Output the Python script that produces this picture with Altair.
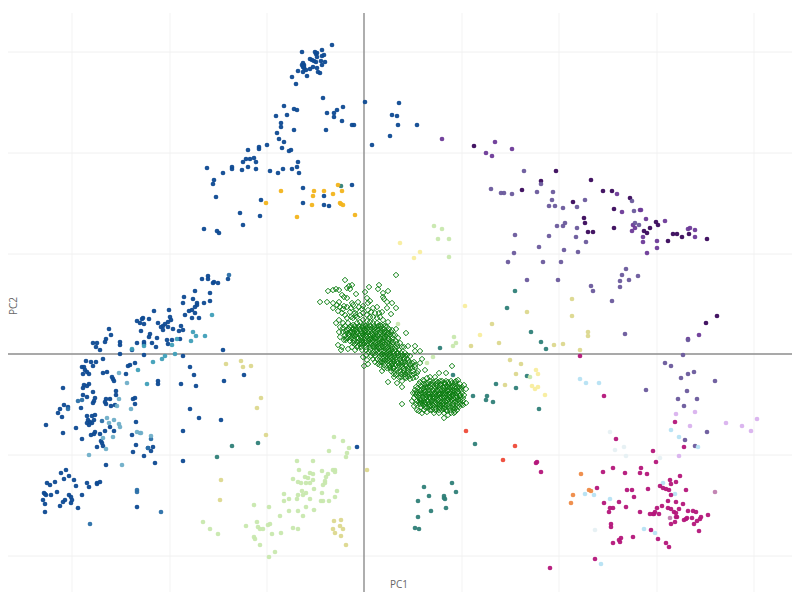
import altair as alt
import pandas as pd

grid_x = [-292, -194, -97, 98, 195, 293, 390]
grid_y = [302, 201, 100, -101, -202]

navy = [(-162,75),(-156,78),(-156,75),(-151,71),(-150,72),(-146,71),(-136,75),(-169,63),(-154,61),(-180,57),(-171,55),(-154,53),(-160,51),(-181,51),(-167,51),(-169,47),(-167,49),(-175,43),(-172,44),(-169,41),(-179,39),(-172,36),(-165,36),(-195,44),(-210,43),(-221,36),(-222,35),(-227,33),(-215,35),(-224,31),(-220,30),(-206,31),(-194,37),(-193,34),(-196,32),(-199,30),(-201,28),(-203,27),(-201,24),(-196,27),(-191,25),(-183,28),(-185,23),(-181,24),(-223,23),(-214,20),(-215,17),(-207,16),(-220,12),(-220,10),(-212,11),(-227,11),(-197,14),(-192,14),(-196,10),(-208,7),(-184,15),(-255,25),(-253,19),(-258,15),(-259,12),(-271,11),(-267,11),(-268,7),(-264,4),(-244,9),(-244,12),(-232,4),(-244,0),(-220,-1),(-181,-2),(-261,-5),(-278,-7),(-273,-8),(-268,-8),(-271,-12),(-282,-13),(-280,-13),(-279,-16),(-277,-18),(-281,-20),(-275,-20),(-261,-19),(-257,-18),(-252,-23),(-251,-25),(-250,-27),(-238,-20),(-236,-12),(-234,-11),(-229,-9),(-206,-27),(-206,-30),(-183,-30),(-174,-13),(-170,-21),(-168,-32),(-140,-27),(-141,4),(-120,-21),(-301,-34),(-280,-31),(-277,-32),(-275,-30),(-281,-34),(-271,-38),(-248,-37),(-248,-41),(-281,-41),(-277,-43),(-269,-44),(-270,-47),(-271,-49),(-258,-45),(-254,-45),(-259,-48),(-258,-50),(-253,-52),(-249,-51),(-231,-45),(-229,-44),(-229,-50),(-300,-51),(-296,-53),(-304,-55),(-306,-59),(-302,-63),(-283,-54),(-277,-62),(-272,-62),(-269,-61),(-276,-66),(-274,-68),(-270,-66),(-277,-69),(-272,-69),(-275,-71),(-318,-71),(-301,-79),(-288,-74),(-282,-85),(-254,-73),(-259,-77),(-250,-77),(-269,-78),(-270,-80),(-273,-81),(-264,-80),(-263,-87),(-262,-89),(-261,-92),(-267,-93),(-228,-68),(-232,-81),(-228,-91),(-231,-98),(-220,-102),(-216,-94),(-211,-93),(-213,-97),(-181,-77),(-174,-55),(-165,-64),(-143,-66),(-258,-111),(-209,-109),(-181,-107),(-298,-116),(-303,-119),(-295,-122),(-300,-125),(-290,-126),(-317,-129),(-309,-128),(-314,-131),(-288,-132),(-277,-129),(-275,-133),(-267,-129),(-264,-128),(-267,-130),(-320,-139),(-319,-140),(-318,-141),(-307,-138),(-313,-141),(-282,-141),(-295,-141),(-293,-143),(-299,-146),(-301,-148),(-292,-146),(-293,-149),(-321,-146),(-319,-150),(-304,-152),(-286,-154),(-319,-158),(-227,-153),
(-32,309),(-42,304),(-62,302),(-49,302),(-47,301),(-48,300),(-40,299),(-42,298),(-47,297),(-54,295),(-52,294),(-50,293),(-43,293),(-39,292),(-48,292),(-61,291),(-62,289),(-60,289),(-42,289),(-51,287),(-47,286),(-60,286),(-58,284),(-54,285),(-66,283),(-61,282),(-46,282),(-44,281),(-57,278),(-72,277),(-68,270),(-61,287),(-60,287),
(-41,256),(1,252),(35,251),(-80,248),(-70,245),(-67,244),(-27,244),(-21,247),(-77,239),(-88,238),(-37,241),(-30,241),(-30,237),(28,239),(33,238),(-83,231),(-83,227),(-22,233),(-12,229),(-10,229),(34,229),(53,229),(-70,224),(-38,224),(-87,221),(-85,215),(-80,212),(26,218),(8,209),(-97,209),(-105,207),(-105,205),(-116,204),(-82,206),(-75,203),(-73,204),(-110,196),(-118,195),(-114,195),(-121,192),(-108,192),(-66,192),(-116,187),(-132,187),(-132,185),(-108,185),(-122,184),(-157,186),(-141,181),(-94,183),(-86,181),(-81,185),(-72,185),(-67,187),(-65,181),(-150,174),(-151,170),(-148,157),(-103,154),(-61,166),(-12,169),(-40,158),(-61,151),(-40,149),(-35,148),(-124,141),(-104,138),(-121,129),(-160,125),(-147,123),(-145,121),(-7,-93)]
midblue = [(-135,79),(-286,-47),(-282,-46),(-296,-55),(-262,-67),(-274,-170),(-203,-158),(-227,-136),(-227,-138),(-216,-94),(-213,-85)]
teal = [(-232,5),(-220,8),(-192,9),(-187,15),(-171,22),(-168,18),(-159,18),(-173,13),(-152,39),(-211,-8),(-202,-5),(-199,-2),(-189,0),(-226,-16),(-217,-30)]
skyblue = [(-237,-29),(-245,-19),(-245,-45),(-247,-52),(-233,-55),(-257,-64),(-250,-66),(-255,-69),(-245,-70),(-244,-73),(-261,-84),(-251,-83),(-227,-78),(-224,-79),(-223,-79),(-213,-82),(-275,-101),(-242,-111),(-258,-95)]
darkteal = [(-132,-92),(-106,-89),(-147,-103),(151,63),(143,46),(167,22),(177,12),(182,5),(76,6),(89,-21),(132,-30),(152,-34),(163,-22),(109,-42),(123,-42),(122,-46),(129,-48),(175,-55),(111,-90),(60,-133),(88,-129),(92,-138),(65,-142),(54,-147),(80,-142),(80,-144),(81,-145),(82,-154),(67,-157),(54,-163),(51,-174),(55,-175),(-23,168)]
amber = [(-26,169),(-83,163),(-50,163),(-40,163),(-22,163),(-31,160),(-51,158),(-98,151),(-52,149),(-24,151),(-23,150),(-21,149),(-67,137),(-9,139)]
palegreen = [(70,128),(78,125),(74,115),(85,115),(85,97),(90,17),(92,11),(89,8),(69,-3),(63,-9),(34,30),(166,-23),
(-30,-83),(-21,-87),(-15,-94),(-35,-97),(-17,-99),(-18,-103),(-67,-107),(-51,-107),(-65,-116),(-42,-117),(-31,-116),(-29,-116),(-29,-118),(-54,-119),(-51,-120),(-59,-123),(-56,-124),(-51,-126),(-36,-120),(-38,-123),(-39,-127),(-71,-125),(-66,-128),(-63,-129),(-58,-129),(-54,-129),(-39,-129),(-41,-131),(-50,-135),(-62,-137),(-58,-139),(-61,-141),(-66,-141),(-80,-140),(-42,-139),(-27,-137),(-29,-143),(-67,-145),(-54,-145),(-75,-145),(-80,-147),(-43,-147),(-41,-147),(-35,-147),(-110,-151),(-95,-153),(-58,-153),(-75,-157),(-66,-157),(-50,-156),(-84,-162),(-61,-162),(-107,-168),(-94,-170),(-96,-171),(-118,-172),(-106,-173),(-104,-175),(-101,-175),(-161,-168),(-154,-175),(-146,-180),(-71,-174),(-66,-175),(-83,-179),(-92,-180),(-110,-183),(-109,-185),(-104,-191),(-89,-198),(-95,-203)]
khaki = [(208,55),(163,42),(208,38),(128,30),(224,22),(224,18),(135,11),(190,9),(199,10),(216,4),(107,8),(146,-6),(157,-10),(152,-20),(141,-31),(-138,-10),(-123,-7),(-121,-13),(-113,-12),(-103,-44),(-107,-54),(-98,-81),(-143,-126),(-144,-146),(3,-116),(-30,-167),(-23,-166),(-24,-172),(-31,-175),(-21,-175),(-29,-179),(-23,-182),(-18,-191)]
paleyellow = [(36,111),(56,102),(50,96),(101,48),(116,19),(172,-16),(174,-20),(168,-32),(174,-33),(171,-35),(181,-41)]
darkpurple = [(110,208),(192,183),(227,174),(177,173),(158,164),(239,163),(248,163),(266,156),(209,152),(250,145),(220,136),(221,131),(224,122),(229,122),(250,126),(292,132),(294,129),(286,126),(280,123),(283,121),(309,120),(313,120),(318,117),(325,120),(304,113),(343,115),(342,31),(353,38)]
midpurple = [(78,215),(131,212),(122,201),(128,198),(148,205),(253,160),(258,142),(276,144),(277,144),(282,135),(301,133),(269,129),(271,126),(268,123),(279,117),(279,112),(293,113),(293,106),(283,101),(324,125),(326,126),(331,124),(331,117),(324,15),(335,19)]
slate = [(160,183),(177,170),(127,165),(137,161),(140,161),(148,160),(173,162),(189,162),(188,154),(221,154),(185,148),(191,148),(199,146),(213,147),(268,153),(270,143),(275,129),(271,131),(193,128),(199,128),(201,131),(213,126),(151,119),(185,118),(212,117),(222,112),(175,107),(200,104),(214,102),(150,101),(144,92),(179,92),(197,92),(163,74),(194,74),(227,68),(229,63),(248,53),(262,85),(258,79),(256,73),(265,74),(274,78),(256,67),(261,20),(319,-1),(301,-9),(307,-12),(324,-20),(330,-18),(317,-24),(351,-27),(282,-36),(323,-37),(314,-45),(333,-45),(320,-52),(343,-78),(321,-86),(331,-92),(324,14)]
palepurple = [(312,-60),(331,-58),(326,-72),(362,-69),(378,-72),(387,-77),(393,-65),(315,-102)]
mauve = [(351,-138),(306,-164)]
paleblue = [(216,-25),(222,-29),(235,-29),(307,-76),(315,-83),(334,-93),(299,-129),(311,-140),(221,-140),(230,-141),(246,-145),(280,-175),(291,-179),(237,-210)]
verypale = [(246,-78),(251,-96),(260,-93),(262,-102),(296,-104),(231,-176)]
crimson = [(216,-2),(240,-42),(311,-68),(252,-85),(320,-93),(289,-97),(292,-108),(172,-109),(173,-108),(177,-118),(249,-114),(277,-114),(239,-118),(261,-119),(276,-119),(283,-120),(316,-122),(306,-126),(307,-130),(312,-128),(296,-132),(299,-134),(302,-135),(305,-136),(233,-134),(263,-136),(268,-136),(284,-135),(322,-136),(270,-143),(307,-141),(240,-149),(255,-148),(304,-147),(312,-148),(319,-150),(246,-154),(249,-154),(262,-153),(298,-152),(293,-154),(304,-154),(307,-155),(315,-155),(245,-158),(276,-158),(291,-158),(286,-160),(289,-160),(290,-160),(295,-160),(310,-158),(312,-159),(324,-157),(329,-157),(332,-158),(344,-161),(337,-163),(312,-163),(313,-163),(322,-165),(320,-166),(323,-164),(328,-164),(336,-165),(333,-167),(311,-168),(307,-170),(330,-170),(247,-170),(247,-173),(287,-176),(335,-177),(269,-183),(294,-185),(257,-184),(255,-186),(256,-188),(249,-189),(302,-189),(305,-193),(231,-205),(186,-214)]
orange = [(217,-120),(225,-136),(227,-137),(209,-141),(207,-149)]
red = [(102,-77),(151,-92),(139,-106)]
diamonds = [(32,79),(-19,74),(-12,69),(-15,68),(-36,63),(-31,64),(-28,65),(-25,64),(-17,66),(-14,65),(1,62),(5,67),(15,69),(14,65),(24,63),(19,61),(-8,60),(-22,59),(-20,57),(-17,56),(19,57),(20,55),(23,52),(28,51),(32,46),(23,46),(18,42),(27,40),(-37,52),(-31,51),(-25,52),(-27,49),(-24,47),(-20,48),(-31,46),(-12,51),(-11,49),(-6,52),(3,56),(6,53),(4,51),(13,47),(9,46),(-2,45),(-44,52),
(-22,41),(-19,39),(-14,42),(-9,41),(-17,36),(-28,31),(-21,31),(-16,31),(-11,36),(-7,37),(-4,39),(-1,41),(3,39),(6,37),(9,37),(13,36),(16,37),(19,34),(24,32),(-21,26),(-17,24),(-14,27),(-11,29),(-7,31),(-4,32),(-1,34),(3,33),(6,32),(9,31),(13,31),(16,29),(19,29),(23,27),(28,24),(32,25),(42,21),(-19,19),(-16,21),(-12,22),(-9,24),(-6,26),(-2,27),(1,28),(4,27),(8,26),(11,26),(14,24),(18,23),(21,22),(24,21),(29,19),(34,16),(-26,9),(-22,7),(-20,14),(-16,16),(-12,17),(-9,18),(-6,20),(-2,21),(1,22),(4,21),(8,20),(11,19),(14,18),(18,17),(21,17),(25,15),(29,12),(36,11),(-23,4),(-16,5),(-12,7),(-11,11),(-7,12),(-4,14),(-1,16),(3,17),(6,15),(9,14),(13,12),(16,11),(19,12),(23,11),(27,8),(31,7),(40,7),(44,8),(-6,8),(-2,10),(1,11),(5,10),(9,8),(12,7),(15,6),(19,7),(22,5),(25,3),(29,2),(34,1),(39,-1),(51,8),(56,3),(51,3),(-2,4),(-1,-3),(2,-1),(5,2),(14,1),(18,0),(21,-1),(24,-1),(28,-3),(31,-4),(36,-5),(43,-1),(58,-5),(0,-12),(4,-10),(3,-6),(14,-10),(18,-8),(21,-6),(24,-7),(28,-9),(31,-10),(34,-9),(39,-8),(44,-6),(48,-9),(56,-9),(18,-17),(23,-14),(26,-13),(29,-14),(33,-16),(38,-13),(42,-12),(46,-14),(51,-13),(61,-16),(24,-28),(32,-21),(35,-23),(39,-19),(43,-19),(48,-21),(53,-19),(33,-29),(38,-27),(42,-24),(46,-25),(49,-24),(38,-33),
(88,-12),(82,-19),(75,-19),(71,-23),(66,-23),(63,-24),(59,-26),(56,-28),(94,-26),(91,-28),(88,-29),(84,-28),(81,-29),(78,-27),(74,-28),(69,-28),(64,-29),(60,-30),(57,-32),(54,-34),(100,-31),(102,-35),(96,-34),(93,-33),(89,-32),(86,-33),(83,-32),(79,-33),(76,-31),(73,-32),(69,-31),(66,-33),(63,-34),(59,-34),(56,-37),(53,-39),(94,-38),(91,-37),(88,-38),(84,-37),(81,-38),(78,-36),(74,-37),(71,-35),(68,-38),(64,-39),(61,-38),(58,-39),(54,-43),(96,-42),(93,-43),(89,-41),(86,-43),(83,-41),(79,-42),(76,-40),(73,-41),(69,-40),(66,-43),(63,-42),(59,-43),(56,-46),(51,-39),(102,-49),(98,-50),(94,-46),(91,-48),(88,-46),(84,-45),(81,-47),(78,-44),(74,-46),(71,-44),(68,-46),(64,-47),(61,-48),(58,-49),(99,-51),(95,-53),(91,-54),(87,-53),(83,-51),(79,-50),(76,-51),(73,-50),(69,-51),(66,-52),(63,-53),(59,-51),(55,-48),(48,-47),(50,-52),(53,-56),(91,-58),(87,-59),(83,-57),(80,-55),(76,-54),(72,-55),(68,-56),(63,-58),(58,-59),(55,-57),(84,-61),(80,-64),(38,-50),
(-26,43),(-21,45),(-17,47),(-13,46),(-8,44),(-5,47),(-1,48),(4,44),(7,42),(11,41),(15,41),(-25,34),(-13,37),(-9,38),(-24,27),(-25,22),(-21,22),(-18,14),(-24,17)]

# further green cluster readings, by PC2 row: PC1 values
diamond_rows = {
    28: [-19,-13,-9,-5,-1,2,6,10,14,17,21], 25: [-15,-11,-8,-4,0,3,6,10,13,16,20,25],
    22: [-18,-14,-10,-7,-3,0,3,6,9,12,16,20,23,27], 19: [-15,-11,-8,-4,-1,2,6,9,13,16,19,23,26,31],
    16: [-18,-13,-10,-6,-3,1,4,7,10,12,16,20,24,28], 13: [-14,-10,-5,-2,2,5,8,11,15,18,21,24,27,32],
    10: [-9,-4,0,3,7,11,14,18,21,25,28,33], 7: [-7,-3,2,6,10,14,17,21,24,28,33,38],
    4: [-9,2,6,11,13,17,20,24,27,31,35], 1: [8,11,16,20,23,26,30,33,37,41],
    -2: [7,11,16,19,22,26,30,34,37,41,46], -5: [9,13,16,19,23,26,29,33,36,40,43],
    -8: [11,16,20,23,26,30,33,37,41,45,50], -11: [16,20,25,28,32,35,38,41,46,51],
    -14: [20,26,30,35,40,44,48], -17: [27,30,36,40,44,49,54], -20: [30,37,41,45,50], -23: [30,37,41,44,52],
    -27: [60,66,72,76,82,87,92], -30: [55,62,67,72,77,81,85,91,96], -33: [52,61,64,71,76,81,84,88,91,95,98],
    -36: [51,57,60,65,69,73,76,80,83,86,89,93,97], -39: [49,56,60,66,71,75,79,82,86,90,93,98],
    -41: [52,55,61,65,68,71,75,78,81,85,88,92,96,100], -44: [50,56,60,62,66,69,73,76,80,83,86,89,92,96,99],
    -47: [53,57,60,63,67,70,73,76,79,83,86,89,92,96,99], -50: [52,56,61,65,68,71,75,78,81,85,89,93,96],
    -53: [57,61,65,68,71,75,78,81,85,89,93], -56: [60,66,71,75,78,82,86,90,93], -59: [70,75,80,90],
}

series = {
    "navy": (navy, "#0e4a92"), "midblue": (midblue, "#2a6fa8"), "teal": (teal, "#3f9fb8"),
    "skyblue": (skyblue, "#6faec8"), "darkteal": (darkteal, "#2f7f78"), "amber": (amber, "#f2b41c"),
    "palegreen": (palegreen, "#c8e8ae"), "khaki": (khaki, "#dcd88e"), "paleyellow": (paleyellow, "#f8ed9e"),
    "darkpurple": (darkpurple, "#3a0a5c"), "midpurple": (midpurple, "#6d3a98"), "slate": (slate, "#6a5a9c"),
    "palepurple": (palepurple, "#d9b2ee"), "mauve": (mauve, "#c07fb0"), "paleblue": (paleblue, "#b6e2f3"),
    "verypale": (verypale, "#e6f0f3"), "crimson": (crimson, "#b4167a"), "orange": (orange, "#ee8a46"),
    "red": (red, "#ee4a38"),
}
rows = [{"PC1": a, "PC2": b, "group": k} for k, (pts, _) in series.items() for a, b in pts]
df = pd.DataFrame(rows)
all_dia = diamonds + [(a, pc2) for pc2, vals in diamond_rows.items() for a in vals]
dia = pd.DataFrame(all_dia, columns=["PC1", "PC2"])

xs = alt.Scale(domain=[-356, 428], nice=False, zero=False)
ys = alt.Scale(domain=[-238, 346], nice=False, zero=False)
X = alt.X("PC1:Q", scale=xs, axis=None)
Y = alt.Y("PC2:Q", scale=ys, axis=None)

vgrid = alt.Chart(pd.DataFrame({"PC1": grid_x, "top": 341, "bot": -238})).mark_rule(color="#f3f3f3", strokeWidth=1).encode(
    x=X, y=alt.Y("top:Q", scale=ys, axis=None), y2="bot:Q")
hgrid = alt.Chart(pd.DataFrame({"PC2": grid_y})).mark_rule(color="#f0f0f0", strokeWidth=1).encode(y=Y)
vzero = alt.Chart(pd.DataFrame({"PC1": [0], "top": [341], "bot": [-238]})).mark_rule(color="#8c8c8c", strokeWidth=1.4).encode(
    x=X, y=alt.Y("top:Q", scale=ys, axis=None), y2="bot:Q")
hzero = alt.Chart(pd.DataFrame({"PC2": [0]})).mark_rule(color="#8c8c8c", strokeWidth=1.4).encode(y=Y)

dots = alt.Chart(df).mark_circle(size=22, opacity=0.95).encode(
    x=X, y=Y,
    color=alt.Color("group:N", legend=None,
                    scale=alt.Scale(domain=list(series), range=[c for _, c in series.values()])),
)
dmarks = alt.Chart(dia).mark_point(shape="diamond", size=30, filled=False, color="#0a7d0f", strokeWidth=1, opacity=1).encode(x=X, y=Y)

t1 = alt.Chart(pd.DataFrame({"t": ["PC1"]})).mark_text(fontSize=10, font="Open Sans", color="#666666").encode(
    text="t:N", x=alt.value(391), y=alt.value(577))
t2 = alt.Chart(pd.DataFrame({"t": ["PC2"]})).mark_text(fontSize=10, font="Open Sans", color="#666666", angle=270).encode(
    text="t:N", x=alt.value(6), y=alt.value(298))

chart = alt.layer(vgrid, hgrid, vzero, hzero, dots, dmarks, t1, t2).properties(
    width=784, height=584, padding=0, autosize=alt.AutoSizeParams(type="none")
).configure_view(stroke=None)

chart.save("out.html", embed_options={"renderer": "svg", "actions": False})
